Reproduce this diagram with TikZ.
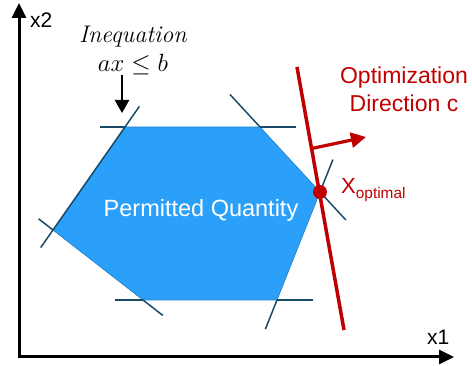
\documentclass[tikz,border=0pt]{standalone}
\usepackage{fontspec}
\setsansfont{Liberation Sans}
\usetikzlibrary{arrows.meta, calc}
\definecolor{regionblue}{RGB}{42,160,250}
\definecolor{boundteal}{RGB}{25,75,105}
\definecolor{optred}{RGB}{192,0,0}
\tikzset{
    axis/.style={line width=3pt, line join=miter, {Triangle[length=15pt, width=14pt]}-{Triangle[length=15pt, width=14pt]}},
    bound/.style={draw=boundteal, line width=1.5pt},
    region/.style={fill=regionblue, draw=boundteal!35!regionblue, line width=0.7pt},
    axistext/.style={font=\sffamily\fontsize{21}{25}\selectfont, inner sep=0pt},
    redtext/.style={font=\sffamily\fontsize{23}{28}\selectfont, text=optred, inner sep=0pt, align=center},
    ineqtext/.style={font=\fontsize{24}{29}\selectfont, inner sep=0pt, align=center},
    objline/.style={draw=optred, line width=3.5pt},
    objarrow/.style={draw=optred, line width=3.2pt, -{Triangle[length=15pt, width=15pt]}},
    arrow/.style={line width=2.5pt, -{Triangle[length=13pt, width=14pt]}}
}
\begin{document}
\begin{tikzpicture}[x=1pt, y=-1pt]
\useasboundingbox (0,0) rectangle (472,366);

\coordinate (O) at (19,357);
\coordinate (x1end) at (454,357);
\coordinate (x2end) at (19,3);
\draw[axis] (x2end) -- (O) -- (x1end);
\node[axistext, anchor=base west] (x2lab) at (30,28) {x2};
\node[axistext, anchor=base west] (x1lab) at (427,345) {x1};

% permitted region
\coordinate (A) at (125,127);
\coordinate (B) at (260,127);
\coordinate (C) at (320,192);
\coordinate (D) at (277,300);
\coordinate (E) at (143,300);
\coordinate (F) at (53,230);
\filldraw[region] (A) -- (B) -- (C) -- (D) -- (E) -- (F) -- cycle;
\node[font=\sffamily\fontsize{23.5}{28}\selectfont, text=white, inner sep=0pt, anchor=base] (permitted) at (201,217) {Permitted Quantity};

\draw[bound] ($(A)!-0.185!(B)$) -- (A);
\draw[bound] (B) -- ($(A)!1.27!(B)$);
\draw[bound] ($(F)!-0.17!(A)$) -- ($(F)!1.2!(A)$);
\draw[bound] ($(B)!-0.5!(C)$) -- (B);
\draw[bound] (C) -- ($(B)!1.43!(C)$);
\draw[bound] ($(C)!-0.3!(D)$) -- (C);
\draw[bound] (D) -- ($(C)!1.27!(D)$);
\draw[bound] ($(D)!-0.27!(E)$) -- (D);
\draw[bound] (E) -- ($(D)!1.21!(E)$);
\draw[bound] ($(E)!-0.22!(F)$) -- (E);
\draw[bound] (F) -- ($(E)!1.16!(F)$);

% inequation label
\node[ineqtext] (ineq) at (133,50) {\textit{Inequation}\\$ax \leq b$};
\coordinate (ineqtip) at (122,113);
\draw[arrow] (ineq.south -| ineqtip) -- (ineqtip);

% optimization direction
\coordinate (rtop) at (297,67);
\coordinate (rbot) at (344,330);
\coordinate (cfoot) at ($(rtop)!0.31!(rbot)$);
\coordinate (ctip) at (366,137);
\draw[objline] (rtop) -- (rbot);
\draw[objarrow] (cfoot) -- (ctip);
\node[redtext] (direction) at (404,89) {Optimization\\Direction c};
\node[circle, fill=optred, inner sep=0pt, minimum size=14pt] (xopt) at (C) {};
\node[font=\sffamily\fontsize{22}{26}\selectfont, text=optred, inner sep=0pt, anchor=base west] (xoptlab) at (341,194) {X\textsubscript{optimal}};
\end{tikzpicture}
\end{document}
